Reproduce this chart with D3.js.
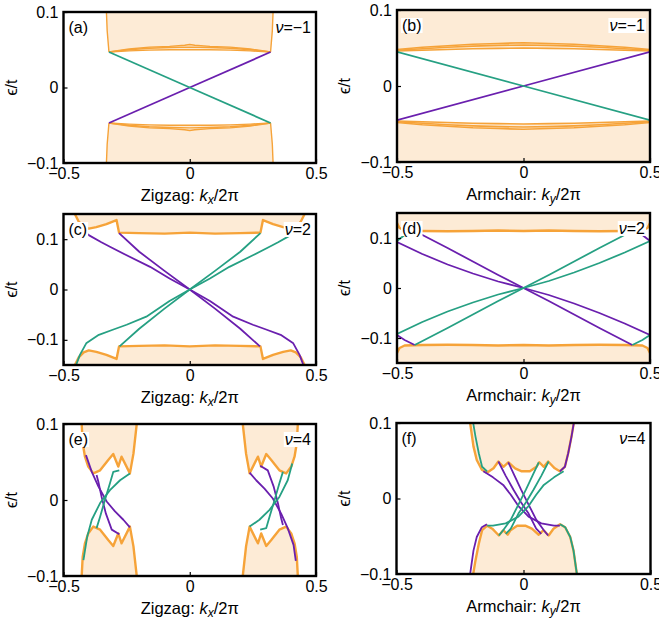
<!DOCTYPE html>
<html><head><meta charset="utf-8">
<script src="https://cdn.jsdelivr.net/npm/d3@7"></script>
<style>body{margin:0;background:#fff} svg{display:block} text{font-family:"Liberation Sans",Arial,sans-serif;fill:#000}</style>
</head><body><svg id="c" width="659" height="627"></svg>
<script>
// ---------------- DATA ----------------
const xTicks = [-0.5, 0, 0.5];
const yTicksSmall = [-0.1, 0, 0.1];
const yDomainSmall = [-0.1, 0.1];
const yDomainWide = [-0.15, 0.15];
const panelLetters = ["(a)", "(b)", "(c)", "(d)", "(e)", "(f)"];
const nuValues = ["−1", "−1", "2", "2", "4", "4"];
const edgeNames = ["Zigzag", "Armchair", "Zigzag", "Armchair", "Zigzag", "Armchair"];
const momentumSubs = ["x", "y", "x", "y", "x", "y"];

// (a) zigzag, nu=-1
const aUpperFill = [[-0.33,0.1],[-0.327,0.075],[-0.322,0.055],[-0.32,0.047],[-0.24,0.0485],[-0.16,0.0495],[-0.08,0.050],[0,0.050],[0.08,0.050],[0.16,0.0495],[0.24,0.0485],[0.32,0.047],[0.322,0.055],[0.327,0.075],[0.33,0.1]];
const aLowerFill = [[-0.33,-0.1],[-0.327,-0.075],[-0.322,-0.055],[-0.32,-0.047],[-0.24,-0.0485],[-0.16,-0.0495],[-0.08,-0.050],[0,-0.050],[0.08,-0.050],[0.16,-0.0495],[0.24,-0.0485],[0.32,-0.047],[0.322,-0.055],[0.327,-0.075],[0.33,-0.1]];
const aOrange = [
  [[-0.32,0.047],[-0.24,0.0485],[-0.16,0.0495],[-0.08,0.050],[0,0.050],[0.08,0.050],[0.16,0.0495],[0.24,0.0485],[0.32,0.047]],
  [[-0.32,0.047],[-0.24,0.050],[-0.16,0.052],[-0.08,0.053],[0,0.0535],[0.08,0.053],[0.16,0.052],[0.24,0.050],[0.32,0.047]],
  [[-0.32,0.047],[-0.24,0.051],[-0.16,0.0535],[-0.08,0.0545],[-0.02,0.056],[0,0.057],[0.02,0.056],[0.08,0.0545],[0.16,0.0535],[0.24,0.051],[0.32,0.047]],
  [[-0.33,0.1],[-0.327,0.075],[-0.322,0.055],[-0.32,0.047]],
  [[0.33,0.1],[0.327,0.075],[0.322,0.055],[0.32,0.047]],
  [[-0.32,-0.047],[-0.24,-0.0485],[-0.16,-0.0495],[-0.08,-0.050],[0,-0.050],[0.08,-0.050],[0.16,-0.0495],[0.24,-0.0485],[0.32,-0.047]],
  [[-0.32,-0.047],[-0.24,-0.050],[-0.16,-0.052],[-0.08,-0.053],[0,-0.0535],[0.08,-0.053],[0.16,-0.052],[0.24,-0.050],[0.32,-0.047]],
  [[-0.32,-0.047],[-0.24,-0.051],[-0.16,-0.0535],[-0.08,-0.0545],[-0.02,-0.056],[0,-0.057],[0.02,-0.056],[0.08,-0.0545],[0.16,-0.0535],[0.24,-0.051],[0.32,-0.047]],
  [[-0.33,-0.1],[-0.327,-0.075],[-0.322,-0.055],[-0.32,-0.047]],
  [[0.33,-0.1],[0.327,-0.075],[0.322,-0.055],[0.32,-0.047]]
];
const aPurple = [[[-0.32,-0.047],[0,0],[0.32,0.047]]];
const aTeal = [[[-0.32,0.047],[0,0],[0.32,-0.047]]];

// (b) armchair, nu=-1
const bUpperFill = [[-0.5,0.1],[-0.5,0.046],[-0.4,0.047],[-0.3,0.048],[-0.2,0.049],[-0.1,0.0495],[0,0.050],[0.1,0.0495],[0.2,0.049],[0.3,0.048],[0.4,0.047],[0.5,0.046],[0.5,0.1]];
const bLowerFill = [[-0.5,-0.1],[-0.5,-0.046],[-0.4,-0.047],[-0.3,-0.048],[-0.2,-0.049],[-0.1,-0.0495],[0,-0.050],[0.1,-0.0495],[0.2,-0.049],[0.3,-0.048],[0.4,-0.047],[0.5,-0.046],[0.5,-0.1]];
const bOrange = [
  [[-0.5,0.046],[-0.4,0.047],[-0.3,0.048],[-0.2,0.049],[-0.1,0.0495],[0,0.050],[0.1,0.0495],[0.2,0.049],[0.3,0.048],[0.4,0.047],[0.5,0.046]],
  [[-0.5,0.047],[-0.4,0.049],[-0.3,0.051],[-0.2,0.0525],[-0.1,0.0535],[0,0.054],[0.1,0.0535],[0.2,0.0525],[0.3,0.051],[0.4,0.049],[0.5,0.047]],
  [[-0.5,0.048],[-0.4,0.051],[-0.3,0.053],[-0.2,0.055],[-0.1,0.056],[0,0.057],[0.1,0.056],[0.2,0.055],[0.3,0.053],[0.4,0.051],[0.5,0.048]],
  [[-0.5,-0.046],[-0.4,-0.047],[-0.3,-0.048],[-0.2,-0.049],[-0.1,-0.0495],[0,-0.050],[0.1,-0.0495],[0.2,-0.049],[0.3,-0.048],[0.4,-0.047],[0.5,-0.046]],
  [[-0.5,-0.047],[-0.4,-0.049],[-0.3,-0.051],[-0.2,-0.0525],[-0.1,-0.0535],[0,-0.054],[0.1,-0.0535],[0.2,-0.0525],[0.3,-0.051],[0.4,-0.049],[0.5,-0.047]],
  [[-0.5,-0.048],[-0.4,-0.051],[-0.3,-0.053],[-0.2,-0.055],[-0.1,-0.056],[0,-0.057],[0.1,-0.056],[0.2,-0.055],[0.3,-0.053],[0.4,-0.051],[0.5,-0.048]]
];
const bPurple = [[[-0.5,-0.045],[0,0],[0.5,0.045]]];
const bTeal = [[[-0.5,0.045],[0,0],[0.5,-0.045]]];

// (c) zigzag, nu=2
const cUpperEdge = [[-0.455,0.15],[-0.44,0.135],[-0.42,0.125],[-0.40,0.121],[-0.37,0.124],[-0.33,0.130],[-0.30,0.136],[-0.29,0.138],[-0.28,0.113],[-0.2,0.112],[-0.1,0.111],[0,0.113],[0.1,0.111],[0.2,0.112],[0.28,0.113],[0.29,0.138],[0.30,0.136],[0.33,0.130],[0.37,0.124],[0.40,0.121],[0.42,0.125],[0.44,0.135],[0.455,0.15]];
const cLowerEdge = [[-0.455,-0.15],[-0.44,-0.135],[-0.42,-0.125],[-0.40,-0.121],[-0.37,-0.124],[-0.33,-0.130],[-0.30,-0.136],[-0.29,-0.138],[-0.28,-0.113],[-0.2,-0.112],[-0.1,-0.111],[0,-0.113],[0.1,-0.111],[0.2,-0.112],[0.28,-0.113],[0.29,-0.138],[0.30,-0.136],[0.33,-0.130],[0.37,-0.124],[0.40,-0.121],[0.42,-0.125],[0.44,-0.135],[0.455,-0.15]];
const cPurple = [
  [[-0.28,0.112],[-0.2,0.075],[-0.1,0.037],[0,0],[0.1,-0.038],[0.2,-0.078],[0.278,-0.113]],
  [[-0.43,0.122],[-0.40,0.108],[-0.35,0.094],[-0.316,0.085],[-0.25,0.068],[-0.157,0.045],[-0.08,0.022],[0,0],[0.08,-0.023],[0.172,-0.054],[0.25,-0.070],[0.305,-0.080],[0.36,-0.090],[0.41,-0.107],[0.435,-0.13],[0.45,-0.15]]
];
const cTeal = [
  [[-0.278,-0.113],[-0.2,-0.078],[-0.1,-0.038],[0,0],[0.1,0.037],[0.2,0.075],[0.28,0.112]],
  [[-0.45,-0.15],[-0.435,-0.13],[-0.41,-0.107],[-0.36,-0.090],[-0.305,-0.080],[-0.25,-0.070],[-0.172,-0.054],[-0.08,-0.023],[0,0],[0.08,0.022],[0.157,0.045],[0.25,0.068],[0.316,0.085],[0.35,0.094],[0.40,0.108],[0.43,0.122]]
];

// (d) armchair, nu=2
const dUpperEdge = [[-0.5,0.13],[-0.49,0.12],[-0.47,0.115],[-0.4,0.114],[-0.3,0.1135],[-0.2,0.114],[-0.1,0.115],[0,0.114],[0.1,0.115],[0.2,0.114],[0.3,0.1135],[0.4,0.114],[0.47,0.115],[0.49,0.12],[0.5,0.13]];
const dLowerEdge = [[-0.5,-0.13],[-0.49,-0.12],[-0.47,-0.115],[-0.4,-0.114],[-0.3,-0.1135],[-0.2,-0.114],[-0.1,-0.115],[0,-0.114],[0.1,-0.115],[0.2,-0.114],[0.3,-0.1135],[0.4,-0.114],[0.47,-0.115],[0.49,-0.12],[0.5,-0.13]];
const dPurple = [
  [[-0.5,0.092],[-0.4,0.068],[-0.3,0.047],[-0.2,0.029],[-0.1,0.013],[0,0],[0.1,-0.014],[0.2,-0.031],[0.3,-0.050],[0.4,-0.071],[0.5,-0.094]],
  [[-0.43,0.114],[-0.3,0.080],[-0.2,0.053],[-0.1,0.026],[0,0],[0.1,-0.026],[0.2,-0.053],[0.3,-0.080],[0.43,-0.114]],
  [[-0.5,-0.094],[-0.47,-0.104],[-0.43,-0.114]],
  [[0.45,0.114],[0.48,0.102],[0.5,0.094]]
];
const dTeal = [
  [[-0.5,-0.092],[-0.4,-0.068],[-0.3,-0.047],[-0.2,-0.029],[-0.1,-0.013],[0,0],[0.1,0.014],[0.2,0.031],[0.3,0.050],[0.4,0.071],[0.5,0.094]],
  [[-0.43,-0.114],[-0.3,-0.080],[-0.2,-0.053],[-0.1,-0.026],[0,0],[0.1,0.026],[0.2,0.053],[0.3,0.080],[0.43,0.114]],
  [[0.5,-0.094],[0.47,-0.104],[0.43,-0.114]],
  [[-0.45,0.114],[-0.48,0.102],[-0.5,0.094]]
];

// (e) zigzag, nu=4
const eUpperLeftEdge = [[-0.428,0.1],[-0.424,0.075],[-0.415,0.057],[-0.402,0.044],[-0.382,0.035],[-0.355,0.039],[-0.322,0.053],[-0.303,0.0605],[-0.283,0.044],[-0.270,0.057],[-0.237,0.035],[-0.223,0.061],[-0.21,0.1]];
const eLowerLeftEdge = [[-0.428,-0.1],[-0.424,-0.075],[-0.415,-0.057],[-0.402,-0.044],[-0.382,-0.035],[-0.355,-0.039],[-0.322,-0.053],[-0.303,-0.0605],[-0.283,-0.044],[-0.270,-0.057],[-0.237,-0.035],[-0.223,-0.061],[-0.21,-0.1]];
const eUpperRightEdge = [[0.21,0.1],[0.223,0.061],[0.237,0.035],[0.270,0.057],[0.283,0.044],[0.303,0.0605],[0.322,0.053],[0.355,0.039],[0.382,0.035],[0.402,0.044],[0.415,0.057],[0.424,0.075],[0.428,0.1]];
const eLowerRightEdge = [[0.21,-0.1],[0.223,-0.061],[0.237,-0.035],[0.270,-0.057],[0.283,-0.044],[0.303,-0.0605],[0.322,-0.053],[0.355,-0.039],[0.382,-0.035],[0.402,-0.044],[0.415,-0.057],[0.424,-0.075],[0.428,-0.1]];
const ePurple = [
  [[-0.411,0.059],[-0.388,0.037],[-0.362,0.018],[-0.329,-0.002],[-0.296,-0.015],[-0.263,-0.026],[-0.237,-0.036]],
  [[-0.369,0.033],[-0.362,0.024],[-0.349,0.004],[-0.332,-0.018],[-0.309,-0.039],[-0.279,-0.045]],
  [[0.237,0.036],[0.263,0.026],[0.296,0.015],[0.329,0.002],[0.362,-0.018],[0.388,-0.037],[0.411,-0.059],[0.42,-0.08]],
  [[0.279,0.045],[0.309,0.039],[0.332,0.018],[0.349,-0.004],[0.362,-0.024],[0.369,-0.033]]
];
const eTeal = [
  [[-0.421,-0.079],[-0.406,-0.048],[-0.388,-0.026],[-0.355,-0.004],[-0.316,0.013],[-0.276,0.026],[-0.237,0.035]],
  [[-0.369,-0.037],[-0.355,-0.022],[-0.336,0],[-0.316,0.022],[-0.303,0.037],[-0.279,0.039]],
  [[0.237,-0.035],[0.276,-0.026],[0.316,-0.013],[0.355,0.004],[0.388,0.026],[0.406,0.048]],
  [[0.279,-0.039],[0.303,-0.037],[0.316,-0.022],[0.336,0],[0.355,0.022],[0.369,0.037]]
];

// (f) armchair, nu=4
const fUpperEdge = [[-0.210,0.1],[-0.197,0.069],[-0.184,0.051],[-0.164,0.038],[-0.144,0.034],[-0.118,0.040],[-0.099,0.049],[-0.079,0.042],[-0.06,0.048],[-0.033,0.040],[-0.007,0.036],[0.025,0.036],[0.051,0.042],[0.062,0.048],[0.08,0.042],[0.097,0.049],[0.123,0.040],[0.143,0.036],[0.163,0.042],[0.176,0.060],[0.189,0.082],[0.198,0.1]];
const fLowerEdge = [[-0.198,-0.1],[-0.189,-0.082],[-0.176,-0.060],[-0.163,-0.042],[-0.143,-0.036],[-0.123,-0.040],[-0.097,-0.049],[-0.08,-0.042],[-0.062,-0.048],[-0.051,-0.042],[-0.025,-0.036],[0.007,-0.036],[0.033,-0.040],[0.06,-0.048],[0.079,-0.042],[0.099,-0.049],[0.118,-0.040],[0.144,-0.034],[0.164,-0.038],[0.184,-0.051],[0.197,-0.069],[0.210,-0.1]];
const fPurple = [
  [[0.198,0.1],[0.189,0.082],[0.176,0.060],[0.163,0.042],[0.143,0.036]],
  [[-0.210,-0.1],[-0.197,-0.069],[-0.184,-0.051],[-0.164,-0.038],[-0.144,-0.034]],
  [[-0.158,0.036],[-0.12,0.028],[-0.08,0.018],[-0.05,0.005],[-0.02,-0.01],[0.02,-0.024],[0.07,-0.033],[0.12,-0.036],[0.143,-0.036]],
  [[-0.099,0.049],[-0.07,0.030],[-0.04,0.012],[-0.01,-0.005],[0.02,-0.02],[0.05,-0.04],[0.07,-0.047]],
  [[-0.06,0.048],[-0.035,0.030],[-0.01,0.012],[0.02,-0.008],[0.05,-0.028],[0.08,-0.042],[0.097,-0.049]]
];
const fTeal = [
  [[-0.198,0.1],[-0.189,0.082],[-0.176,0.060],[-0.163,0.042],[-0.143,0.036]],
  [[0.210,-0.1],[0.197,-0.069],[0.184,-0.051],[0.164,-0.038],[0.144,-0.034]],
  [[0.158,0.036],[0.12,0.028],[0.08,0.018],[0.05,0.005],[0.02,-0.01],[-0.02,-0.024],[-0.07,-0.033],[-0.12,-0.036],[-0.143,-0.036]],
  [[0.099,0.049],[0.07,0.030],[0.04,0.012],[0.01,-0.005],[-0.02,-0.02],[-0.05,-0.04],[-0.07,-0.047]],
  [[0.06,0.048],[0.035,0.030],[0.01,0.012],[-0.02,-0.008],[-0.05,-0.028],[-0.08,-0.042],[-0.097,-0.049]]
];

// ---------------- LAYOUT / STYLE ----------------
const COL = {fill:"#fdebd6", orange:"#f6a339", purple:"#6a1fae", teal:"#26a083"};
const FONT = '"Liberation Sans",Arial,sans-serif';
const panels = [
  {x0:63.5, x1:316, y0:12, y1:163, yd:yDomainSmall,
   fills:[aUpperFill, aLowerFill], orange:aOrange, ow:1.4, purple:aPurple, teal:aTeal},
  {x0:397, x1:650, y0:10, y1:162, yd:yDomainSmall,
   fills:[bUpperFill, bLowerFill], orange:bOrange, ow:1.6, purple:bPurple, teal:bTeal},
  {x0:63.5, x1:316, y0:214, y1:365, yd:yDomainWide,
   fills:[cUpperEdge, cLowerEdge], orange:[cUpperEdge, cLowerEdge], ow:2.4, purple:cPurple, teal:cTeal},
  {x0:397, x1:650, y0:213, y1:363, yd:yDomainWide,
   fills:[dUpperEdge.concat([[0.5,0.15],[-0.5,0.15]]), dLowerEdge.concat([[0.5,-0.15],[-0.5,-0.15]])], orange:[dUpperEdge, dLowerEdge], ow:2.4, purple:dPurple, teal:dTeal},
  {x0:63.5, x1:316, y0:424, y1:576, yd:yDomainSmall,
   fills:[eUpperLeftEdge, eLowerLeftEdge, eUpperRightEdge, eLowerRightEdge], orange:[eUpperLeftEdge, eLowerLeftEdge, eUpperRightEdge, eLowerRightEdge], ow:2.4, purple:ePurple, teal:eTeal},
  {x0:396.5, x1:650.5, y0:423, y1:574, yd:yDomainSmall,
   fills:[fUpperEdge, fLowerEdge], orange:[fUpperEdge, fLowerEdge], ow:2.4, purple:fPurple, teal:fTeal}
];

const svg = d3.select("#c");
const fmt = d3.format("");

panels.forEach((P, i) => {
  const x = d3.scaleLinear().domain([-0.5, 0.5]).range([P.x0, P.x1]);
  const y = d3.scaleLinear().domain(P.yd).range([P.y1, P.y0]);
  const line = d3.line().x(d => x(d[0])).y(d => y(d[1]));
  const g = svg.append("g");
  const cid = "clip" + i;
  svg.append("defs").append("clipPath").attr("id", cid).append("rect")
    .attr("x", P.x0).attr("y", P.y0).attr("width", P.x1 - P.x0).attr("height", P.y1 - P.y0);
  const inner = g.append("g").attr("clip-path", `url(#${cid})`);
  P.fills.forEach(f => inner.append("path").attr("d", line(f) + "Z").attr("fill", COL.fill).attr("stroke", "none"));
  P.orange.forEach(o => inner.append("path").attr("d", line(o)).attr("fill", "none").attr("stroke", COL.orange).attr("stroke-width", P.ow).attr("stroke-linejoin","round"));
  P.purple.forEach(o => inner.append("path").attr("d", line(o)).attr("fill", "none").attr("stroke", COL.purple).attr("stroke-width", 1.8).attr("stroke-linejoin","round"));
  P.teal.forEach(o => inner.append("path").attr("d", line(o)).attr("fill", "none").attr("stroke", COL.teal).attr("stroke-width", 1.8).attr("stroke-linejoin","round"));

  // labels with white boxes
  const lab = g.append("text").attr("x", P.x0 + 5).attr("y", P.y0 + 21).attr("font-size", 16).text(panelLetters[i]);
  const nu = g.append("text").attr("x", P.x1 - 5).attr("y", P.y0 + 21).attr("font-size", 16).attr("text-anchor", "end");
  nu.append("tspan").attr("font-style", "italic").text("ν");
  nu.append("tspan").text("=" + nuValues[i]);
  [lab, nu].forEach(t => {
    const b = t.node().getBBox();
    g.insert("rect", "text").attr("x", b.x - 1).attr("y", b.y + 1).attr("width", b.width + 2).attr("height", b.height - 2).attr("fill", "#fff");
  });

  // axes
  const ax = g.append("g").attr("transform", `translate(0,${P.y1})`)
    .call(d3.axisBottom(x).tickValues(xTicks).tickSize(-4).tickPadding(5).tickFormat(fmt));
  const ay = g.append("g").attr("transform", `translate(${P.x0},0)`)
    .call(d3.axisLeft(y).tickValues(yTicksSmall).tickSize(-4).tickPadding(5).tickFormat(fmt));
  [ax, ay].forEach(a => {
    a.select(".domain").remove();
    a.selectAll("line").attr("stroke", "#000").attr("stroke-width", 1.2);
    a.selectAll("text").attr("font-size", 16).attr("font-family", FONT).attr("fill", "#000");
  });
  g.append("rect").attr("x", P.x0).attr("y", P.y0).attr("width", P.x1 - P.x0).attr("height", P.y1 - P.y0)
    .attr("fill", "none").attr("stroke", "#000").attr("stroke-width", 2.4);

  // axis titles
  const xt = g.append("text").attr("x", (P.x0 + P.x1) / 2).attr("y", P.y1 + 38).attr("text-anchor", "middle").attr("font-size", 16.5);
  xt.append("tspan").text(edgeNames[i] + ": ");
  xt.append("tspan").attr("font-style", "italic").text("k");
  xt.append("tspan").attr("font-style", "italic").attr("font-size", 12).attr("dy", 3).text(momentumSubs[i]);
  xt.append("tspan").attr("dy", -3).text("/2π");
  g.append("text").attr("transform", `translate(${P.x0 - 47},${(P.y0 + P.y1) / 2}) rotate(-90)`)
    .attr("text-anchor", "middle").attr("font-size", 16).text("ϵ/t");
});
</script></body></html>
